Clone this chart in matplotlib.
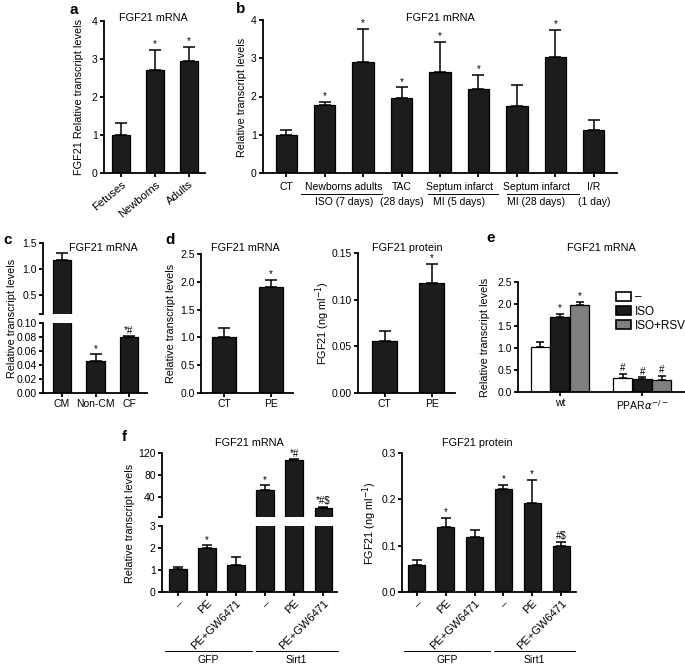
import numpy as np
import matplotlib
matplotlib.use("Agg")
import matplotlib.pyplot as plt
import matplotlib.transforms as mtransforms
from matplotlib.patches import Patch

W, H = 685, 666
plt.rcParams['font.family'] = ['Liberation Sans', 'DejaVu Sans']
FS = 7
BAR = '#1c1c1c'
GREY = '#7f7f7f'

# ---- data ----
a_labels = ['Fetuses', 'Newborns', 'Adults']
a_vals = [1.01, 2.72, 2.96]
a_err = [0.31, 0.53, 0.36]
a_sig = ['', '*', '*']

b_vals = [1.0, 1.77, 2.9, 1.95, 2.63, 2.19, 1.74, 3.03, 1.13]
b_err = [0.13, 0.09, 0.86, 0.29, 0.8, 0.37, 0.55, 0.71, 0.26]
b_sig = ['', '*', '*', '*', '*', '*', '', '*', '']

c_labels = ['CM', 'Non-CM', 'CF']
c_vals = [1.165, 0.0457, 0.0798]
c_err = [0.135, 0.0096, 0.001]
c_sig = ['', '*', '*#']

d_labels = ['CT', 'PE']
d_mrna = [1.01, 1.91]
d_mrna_err = [0.16, 0.13]
d_mrna_sig = ['', '*']
d_prot = [0.056, 0.118]
d_prot_err = [0.010, 0.020]
d_prot_sig = ['', '*']

e_groups = ['wt', r'PPAR$\alpha^{-/-}$']
e_series = ['\u2013', 'ISO', 'ISO+RSV']
e_vals = [[1.02, 0.32], [1.70, 0.29], [1.97, 0.28]]
e_err = [[0.11, 0.09], [0.08, 0.04], [0.08, 0.09]]
e_sig = [['', '#'], ['*', '#'], ['*', '#']]

f_labels = ['\u2013', 'PE', 'PE+GW6471', '\u2013', 'PE', 'PE+GW6471']
f_mrna = [1.03, 2.0, 1.22, 52.3, 106.5, 19.7]
f_mrna_err = [0.1, 0.12, 0.35, 8.7, 1.8, 1.8]
f_mrna_sig = ['', '*', '', '*', '*#', '*#$']
f_prot = [0.058, 0.14, 0.119, 0.223, 0.192, 0.0986]
f_prot_err = [0.010, 0.020, 0.014, 0.009, 0.050, 0.010]
f_prot_sig = ['', '*', '', '*', '*', '#$']


def box(x0, y0, x1, y1):
    return [x0 / W, 1 - y1 / H, (x1 - x0) / W, (y1 - y0) / H]


def style(ax, bottom=True):
    for s in ['top', 'right']:
        ax.spines[s].set_visible(False)
    ax.spines['left'].set_linewidth(1.3)
    ax.spines['bottom'].set_linewidth(1.3)
    if not bottom:
        ax.spines['bottom'].set_visible(False)
        ax.set_xticks([])
    ax.tick_params(width=1.3, length=3, labelsize=FS + 0.5, pad=1.5)


def bars(ax, x, vals, errs, width, color=BAR, cap=4):
    ax.bar(x, vals, width, color=color, edgecolor='black', linewidth=0.9)
    ax.errorbar(x, vals, yerr=[np.zeros(len(errs)), errs], fmt='none',
                ecolor='black', elinewidth=1.1, capsize=cap, capthick=1.1)


def marks(ax, x, vals, errs, sig, fs=FS):
    for xi, v, e, s in zip(x, vals, errs, sig):
        if s:
            ax.annotate(s, (xi, v + e), xytext=(0, 0.5), textcoords='offset points',
                        ha='center', va='bottom', fontsize=fs)


def title(ax, txt, x, y):
    ax.text(x, y, txt, transform=ax.transAxes, ha='center', va='center', fontsize=FS + 0.8)


fig = plt.figure(figsize=(W / 100, H / 100), dpi=100)

def letter(t, x, y):
    fig.text(x / W, 1 - y / H, t, fontsize=11, fontweight='bold', ha='left', va='center')

def ylab(t, x, y):
    fig.text(x / W, 1 - y / H, t, rotation=90, fontsize=FS + 0.8, ha='center', va='center')

# ---- a ----
ax = fig.add_axes(box(104, 21, 205, 173))
style(ax)
xa = np.arange(3)
bars(ax, xa, a_vals, a_err, 0.53)
marks(ax, xa, a_vals, a_err, a_sig)
ax.set_xlim(-0.5, 2.47)
ax.set_ylim(0, 4)
ax.set_yticks([0, 1, 2, 3, 4])
ax.set_xticks(xa)
ax.set_xticklabels(a_labels, rotation=40, ha='right', rotation_mode='anchor', fontsize=FS + 1)
title(ax, 'FGF21 mRNA', 0.49, 1.02)
letter('a', 70, 10)
ylab('FGF21 Relative transcript levels', 79, 97)

# ---- b ----
ax = fig.add_axes(box(263, 20, 617, 173))
style(ax)
xb = np.arange(9)
bars(ax, xb, b_vals, b_err, 0.55)
marks(ax, xb, b_vals, b_err, b_sig)
ax.set_xlim(-0.6, 8.6)
ax.set_ylim(0, 4)
ax.set_yticks([0, 1, 2, 3, 4])
ax.set_xticks(xb)
ax.set_xticklabels([])
title(ax, 'FGF21 mRNA', 0.5, 1.015)
letter('b', 236, 9)
ylab('Relative transcript levels', 242, 97)
tb = mtransforms.blended_transform_factory(ax.transData, fig.transFigure)
row1 = 1 - 187 / H
row2 = 1 - 202 / H
line_y = 1 - 194 / H
top_row = [(0, 'CT'), (1.5, 'Newborns adults'), (3, 'TAC'), (4.5, 'Septum infarct'),
           (6.5, 'Septum infarct'), (8, 'I/R')]
bot_row = [(1.5, 'ISO (7 days)'), (3, '(28 days)'), (4.5, 'MI (5 days)'),
           (6.5, 'MI (28 days)'), (8, '(1 day)')]
for xp, t in top_row:
    ax.text(xp, row1, t, transform=tb, ha='center', va='center', fontsize=FS + 0.5)
for xp, t in bot_row:
    ax.text(xp, row2, t, transform=tb, ha='center', va='center', fontsize=FS + 0.5)
for x0, x1 in [(0.38, 2.48), (3.68, 5.5), (5.75, 7.62)]:
    ax.plot([x0, x1], [line_y, line_y], transform=tb, color='black', lw=0.7, clip_on=False)

# ---- c (broken axis) ----
xc = np.arange(3)
axu = fig.add_axes(box(43, 243, 147, 314))
axl = fig.add_axes(box(43, 323, 147, 393))
style(axu, bottom=False)
style(axl)
bars(axu, xc[:1], c_vals[:1], c_err[:1], 0.54)
bars(axl, xc, c_vals, c_err, 0.54)
for a in (axu, axl):
    a.set_xlim(-0.57, 2.54)
axu.set_ylim(0.13, 1.5)
axu.set_yticks([0.13, 0.5, 1.0, 1.5])
axu.set_yticklabels(['', '0.5', '1.0', '1.5'])
axl.set_ylim(0, 0.1)
axl.set_yticks([0, 0.02, 0.04, 0.06, 0.08, 0.10])
axl.set_yticklabels(['0.00', '0.02', '0.04', '0.06', '0.08', '0.10'])
axl.set_xticks(xc)
axl.set_xticklabels(c_labels)
marks(axl, xc, c_vals, c_err, c_sig)
title(axu, 'FGF21 mRNA', 0.58, 0.93)
letter('c', 3, 240)
ylab('Relative transcript levels', 12, 318)

# ---- d ----
xd = np.arange(2)
ax = fig.add_axes(box(201, 254, 293, 393))
style(ax)
bars(ax, xd, d_mrna, d_mrna_err, 0.53)
marks(ax, xd, d_mrna, d_mrna_err, d_mrna_sig)
ax.set_xlim(-0.49, 1.47)
ax.set_ylim(0, 2.5)
ax.set_yticks(np.arange(0, 2.51, 0.5))
ax.set_yticklabels(['0.0', '0.5', '1.0', '1.5', '2.0', '2.5'])
ax.set_xticks(xd)
ax.set_xticklabels(d_labels)
title(ax, 'FGF21 mRNA', 0.48, 1.04)
letter('d', 165, 240)
ylab('Relative transcript levels', 171, 323)

ax = fig.add_axes(box(358, 253, 455, 393))
style(ax)
bars(ax, xd, d_prot, d_prot_err, 0.53)
marks(ax, xd, d_prot, d_prot_err, d_prot_sig)
ax.set_xlim(-0.57, 1.49)
ax.set_ylim(0, 0.15)
ax.set_yticks([0, 0.05, 0.10, 0.15])
ax.set_yticklabels(['0.00', '0.05', '0.10', '0.15'])
ax.set_xticks(xd)
ax.set_xticklabels(d_labels)
title(ax, 'FGF21 protein', 0.505, 1.036)
ylab('FGF21 (ng ml$^{-1}$)', 323, 323)

# ---- e ----
ax = fig.add_axes(box(518, 282, 685, 392))
style(ax)
xe = np.arange(2)
colors = ['white', BAR, GREY]
off = [-0.238, 0, 0.238]
handles = []
for i in range(3):
    xs = xe + off[i]
    bars(ax, xs, e_vals[i], e_err[i], 0.232, color=colors[i], cap=3)
    marks(ax, xs, e_vals[i], e_err[i], e_sig[i])
    handles.append(Patch(facecolor=colors[i], edgecolor='black', linewidth=1.2, label=e_series[i]))
ax.set_xlim(-0.51, 1.52)
ax.set_ylim(0, 2.5)
ax.set_yticks(np.arange(0, 2.51, 0.5))
ax.set_yticklabels(['0.0', '0.5', '1.0', '1.5', '2.0', '2.5'])
ax.set_xticks(xe)
ax.set_xticklabels(e_groups)
ax.legend(handles=handles, loc='upper left', bbox_to_anchor=(0.55, 0.97), frameon=False,
          fontsize=FS + 1.5, handlelength=1.3, handleheight=0.8, labelspacing=0.2,
          handletextpad=0.3, borderpad=0)
title(ax, 'FGF21 mRNA', 0.50, 1.31)
letter('e', 486, 238)
ylab('Relative transcript levels', 485, 337)

# ---- f ----
xf = np.arange(6)
axu = fig.add_axes(box(162, 453, 337, 517))
axl = fig.add_axes(box(162, 526, 337, 592))
style(axu, bottom=False)
style(axl)
bars(axu, xf[3:], f_mrna[3:], f_mrna_err[3:], 0.59, cap=3.5)
bars(axl, xf, f_mrna, f_mrna_err, 0.59, cap=3.5)
for a in (axu, axl):
    a.set_xlim(-0.55, 5.48)
axu.set_ylim(3.6, 120)
axu.set_yticks([3.6, 40, 80, 120])
axu.set_yticklabels(['', '40', '80', '120'])
axl.set_ylim(0, 3)
axl.set_yticks([0, 1, 2, 3])
marks(axu, xf[3:], f_mrna[3:], f_mrna_err[3:], f_mrna_sig[3:])
marks(axl, xf[:3], f_mrna[:3], f_mrna_err[:3], f_mrna_sig[:3])
axl.set_xticks(xf)
axl.set_xticklabels(f_labels, rotation=45, ha='right', rotation_mode='anchor', fontsize=FS + 1)
title(axu, 'FGF21 mRNA', 0.5, 1.16)
letter('f', 122, 437)
ylab('Relative transcript levels', 130, 523)

axr = fig.add_axes(box(402, 453, 576, 592))
style(axr)
bars(axr, xf, f_prot, f_prot_err, 0.59, cap=3.5)
marks(axr, xf, f_prot, f_prot_err, f_prot_sig)
axr.set_xlim(-0.52, 5.52)
axr.set_ylim(0, 0.3)
axr.set_yticks([0, 0.1, 0.2, 0.3])
axr.set_yticklabels(['0.0', '0.1', '0.2', '0.3'])
axr.set_xticks(xf)
axr.set_xticklabels(f_labels, rotation=45, ha='right', rotation_mode='anchor', fontsize=FS + 1)
title(axr, 'FGF21 protein', 0.43, 1.07)
ylab('FGF21 (ng ml$^{-1}$)', 370, 523)

for a in (axl, axr):
    tf = mtransforms.blended_transform_factory(a.transData, fig.transFigure)
    gy = 1 - 651 / H
    ly = 1 - 660 / H
    for (x0, x1), name in [((-0.45, 2.55), 'GFP'), ((2.68, 5.5), 'Sirt1')]:
        a.plot([x0, x1], [gy, gy], transform=tf, color='black', lw=0.7, clip_on=False)
        a.text((x0 + x1) / 2, ly, name, transform=tf, ha='center', va='center', fontsize=FS + 0.5)

fig.savefig('out.png', dpi=100)
